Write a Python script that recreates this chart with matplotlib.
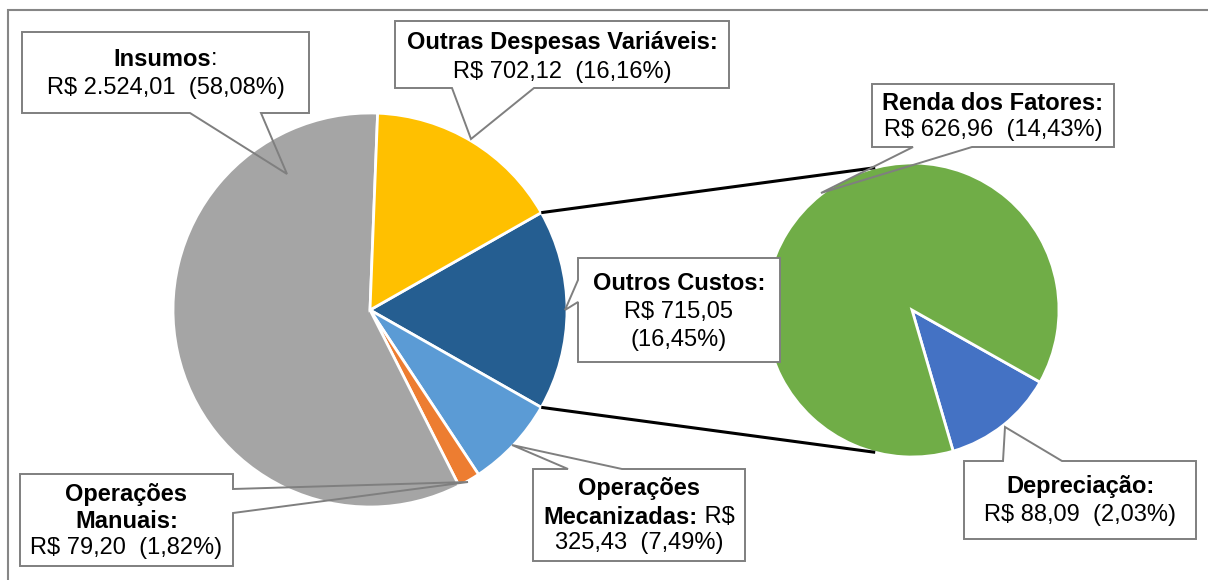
import matplotlib
matplotlib.use("Agg")
import numpy as np
import matplotlib.pyplot as plt
from matplotlib.patches import Polygon, Rectangle

plt.rcParams['font.family'] = ['Liberation Sans', 'DejaVu Sans']

# Pie principal (ordem de desenho, sentido horario a partir de "Outros Custos")
main_labels = ["Outros Custos", "Operações Mecanizadas", "Operações Manuais",
               "Insumos", "Outras Despesas Variáveis"]
main_values = [715.05, 325.43, 79.20, 2524.01, 702.12]
main_pct = ["16,45%", "7,49%", "1,82%", "58,08%", "16,16%"]
main_colors = ["#255E91", "#5B9BD5", "#ED7D31", "#A5A5A5", "#FFC000"]

# Pie secundario (detalhe de "Outros Custos")
sub_labels = ["Depreciação", "Renda dos Fatores"]
sub_values = [88.09, 626.96]
sub_pct = ["2,03%", "14,43%"]
sub_colors = ["#4472C4", "#70AD47"]

W, H = 1208, 580
BORDER = "#7F7F7F"
FS = 17


def py(y):
    # pixel (y para baixo) -> coordenada do eixo (y para cima)
    return H - y


fig = plt.figure(figsize=(W / 100, H / 100), dpi=100)
ax = fig.add_axes([0, 0, 1, 1])

main_c = (370, py(310))
main_r = 197
sub_c = (912, py(310))
sub_r = 147

frac = main_values[0] / sum(main_values)
half = 180 * frac
ax.pie(main_values, colors=main_colors, startangle=half, counterclock=False,
       center=main_c, radius=main_r,
       wedgeprops=dict(edgecolor="white", linewidth=2))
ax.pie(sub_values, colors=sub_colors, startangle=-29.4, counterclock=False,
       center=sub_c, radius=sub_r,
       wedgeprops=dict(edgecolor="white", linewidth=2))

# linhas de ligacao entre os dois graficos
for sgn in (1, -1):
    a1 = np.radians(sgn * half)
    a2 = np.radians(sgn * 104.5)
    x1 = main_c[0] + main_r * np.cos(a1)
    y1 = main_c[1] + main_r * np.sin(a1)
    x2 = sub_c[0] + sub_r * np.cos(a2)
    y2 = sub_c[1] + sub_r * np.sin(a2)
    ax.plot([x1, x2], [y1, y2], color="black", lw=2.2, zorder=3,
            solid_capstyle="butt")

renderer = fig.canvas.get_renderer()


def text_width(s, weight):
    t = ax.text(0, 0, s, fontsize=FS, fontweight=weight)
    w = t.get_window_extent(renderer).width
    t.remove()
    return w


def draw_line(xc, y, parts):
    widths = [text_width(s, w) for s, w in parts]
    x = xc - sum(widths) / 2
    for (s, w), wd in zip(parts, widths):
        ax.text(x, py(y), s, fontsize=FS, fontweight=w, ha="left",
                va="center", zorder=8, color="black")
        x += wd


def callout(box, side, base, tip, lines):
    x0, y0, x1, y1 = box
    b0, b1 = base
    if side == "top":
        pts = [(x0, y0), (b0, y0), tip, (b1, y0), (x1, y0), (x1, y1), (x0, y1)]
    elif side == "right":
        pts = [(x0, y0), (x1, y0), (x1, b0), tip, (x1, b1), (x1, y1), (x0, y1)]
    elif side == "bottom":
        pts = [(x0, y0), (x1, y0), (x1, y1), (b1, y1), tip, (b0, y1), (x0, y1)]
    else:
        pts = [(x0, y0), (x1, y0), (x1, y1), (x0, y1), (x0, b1), tip, (x0, b0)]
    ax.add_patch(Rectangle((x0, py(y1)), x1 - x0, y1 - y0, facecolor="white",
                           edgecolor="none", zorder=5))
    ax.add_patch(Polygon([(x, py(y)) for x, y in pts], closed=True,
                         facecolor="none", edgecolor=BORDER, lw=1.4, zorder=6))
    xc = (x0 + x1) / 2
    for y, parts in lines:
        draw_line(xc, y, parts)


B, N = "bold", "normal"

callout((22, 32, 309, 113), "bottom", (190, 261), (287, 174),
        [(59, [(main_labels[3], B), (":", N)]),
         (88, [("R$ 2.524,01  (" + main_pct[3] + ")", N)])])

callout((395, 21, 729, 88), "bottom", (452, 534), (471, 139),
        [(43, [(main_labels[4] + ":", B)]),
         (72, [("R$ 702,12  (" + main_pct[4] + ")", N)])])

callout((872, 84, 1114, 147), "bottom", (913, 972), (821, 193),
        [(103, [(sub_labels[1] + ":", B)]),
         (130, [("R$ 626,96  (" + sub_pct[1] + ")", N)])])

callout((578, 258, 780, 362), "left", (280, 302), (565, 310),
        [(284, [(main_labels[0] + ":", B)]),
         (312, [("R$ 715,05", N)]),
         (340, [("(" + main_pct[0] + ")", N)])])

callout((20, 474, 233, 566), "right", (489, 513), (468, 482),
        [(494, [("Operações", B)]),
         (522, [("Manuais:", B)]),
         (548, [("R$ 79,20  (" + main_pct[2] + ")", N)])])

callout((533, 469, 745, 561), "top", (568, 622), (512, 445),
        [(488, [("Operações", B)]),
         (517, [("Mecanizadas:", B), (" R$", N)]),
         (543, [("325,43  (" + main_pct[1] + ")", N)])])

callout((964, 461, 1196, 539), "top", (1003, 1062), (1005, 427),
        [(487, [(sub_labels[0] + ":", B)]),
         (515, [("R$ 88,09  (" + sub_pct[0] + ")", N)])])

# moldura do grafico
ax.add_patch(Rectangle((8, py(600)), 1230, 590, facecolor="none",
                       edgecolor="#868686", lw=1.5, zorder=10))

ax.set_xlim(0, W)
ax.set_ylim(0, H)
ax.set_aspect("equal")
ax.axis("off")

fig.savefig("out.png", dpi=100, facecolor="white")
